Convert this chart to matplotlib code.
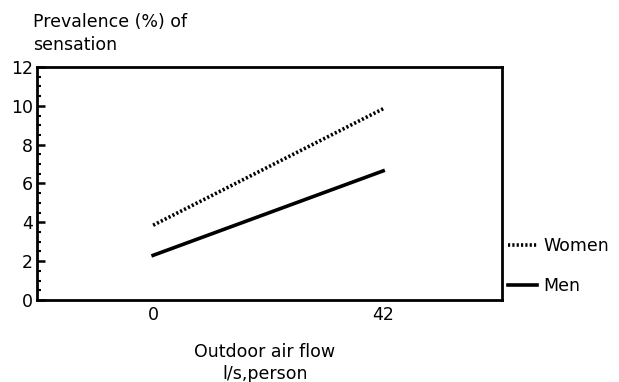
import matplotlib
matplotlib.use('Agg')
import matplotlib.pyplot as plt
from matplotlib.ticker import MultipleLocator

#------------------------------------------------------------------------------
#   Data
#------------------------------------------------------------------------------
air_flow = [0, 42]
women = [3.85, 9.85]
men = [2.3, 6.65]
x_ticks = [0, 42]
y_ticks = [0, 2, 4, 6, 8, 10, 12]

plt.rcParams['font.family'] = ['DejaVu Sans']
fs = 12.5

fig = plt.figure(figsize=(6.19, 3.82), dpi=100)
ax = fig.add_axes([0.0598, 0.2147, 0.7512, 0.6099])

ax.plot(air_flow, women, color='black', linestyle=(0, (0.6, 0.6)), linewidth=2.6, label='Women')
ax.plot(air_flow, men, color='black', linestyle='-', linewidth=2.6, label='Men')

ax.set_xlim(-21.2, 63.7)
ax.set_ylim(0, 12)
ax.set_xticks(x_ticks)
ax.set_yticks(y_ticks)
ax.yaxis.set_minor_locator(MultipleLocator(0.5))

for side in ax.spines.values():
    side.set_linewidth(2)
ax.tick_params(axis='both', which='major', direction='in', length=6, width=1.8, labelsize=fs)
ax.tick_params(axis='y', which='minor', direction='in', length=3, width=1.5)
ax.tick_params(axis='y', which='major', pad=3)
ax.tick_params(axis='x', which='major', length=0, pad=4)

fig.text(0.053, 0.942, 'Prevalence (%) of', fontsize=fs, ha='left', va='center')
fig.text(0.053, 0.882, 'sensation', fontsize=fs, ha='left', va='center')

fig.text(0.428, 0.079, 'Outdoor air flow', fontsize=fs, ha='center', va='center')
fig.text(0.428, 0.022, 'l/s,person', fontsize=fs, ha='center', va='center')

ax.legend(loc='center left', bbox_to_anchor=(1.012, 0.145), frameon=False,
          handlelength=1.7, handletextpad=0.35, labelspacing=1.3, fontsize=fs,
          borderaxespad=0, borderpad=0)

fig.savefig('out.png', dpi=100)
